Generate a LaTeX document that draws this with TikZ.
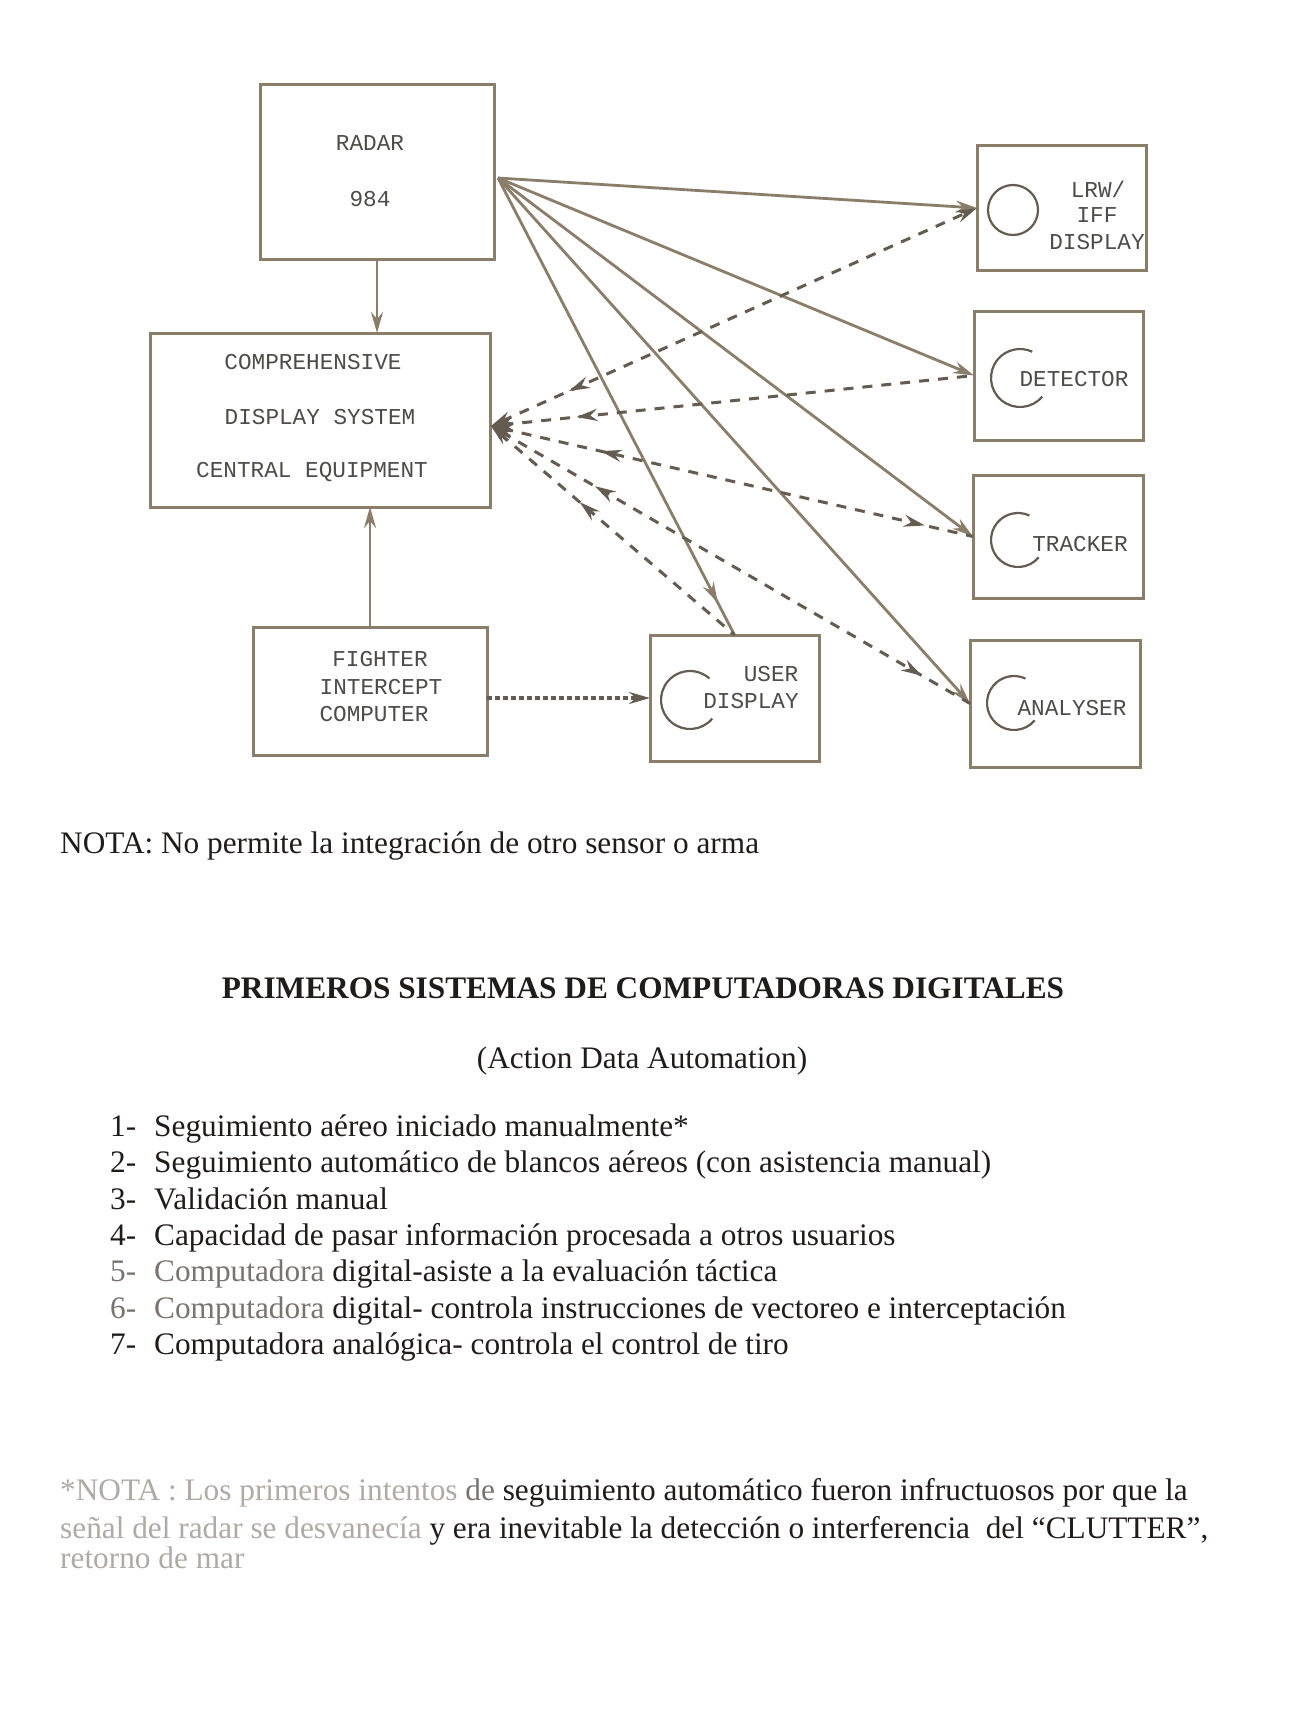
\documentclass[tikz,border=0pt]{standalone}
\usepackage{fontspec}
\setmainfont{Liberation Serif}
\newfontfamily\monofam{Liberation Mono}
\usetikzlibrary{arrows.meta,decorations.markings}
\definecolor{linec}{RGB}{138,126,106}
\definecolor{dashc}{RGB}{100,92,80}
\definecolor{boxtext}{RGB}{78,76,72}
\definecolor{bodytext}{RGB}{32,28,26}
\definecolor{fadec}{RGB}{175,170,165}
\definecolor{halfc}{RGB}{120,115,110}
\newcommand\dgfont{\monofam\fontsize{22.7}{27}\selectfont}
\newcommand\bodyfnt{\fontsize{31.3}{37}\selectfont}
\begin{document}
\begin{tikzpicture}[x=1pt,y=-1pt,
  >={Stealth[length=21pt,width=12pt,inset=7pt]},
  box/.style={draw=linec, line width=3pt, inner sep=0pt, outer sep=0pt},
  lbl/.style={font=\dgfont, text=boxtext, inner sep=0pt, anchor=center},
  ring/.style={draw=dashc, line width=2.2pt},
  solidarr/.style={draw=linec, line width=2.8pt},
  dasharr/.style={draw=dashc, line width=3pt, dash pattern=on 10pt off 9pt},
  dotarr/.style={draw=dashc, line width=3.2pt, dash pattern=on 5pt off 3pt},
  backmark/.style={postaction={solid, decorate, decoration={markings, mark=at position #1 with {\arrow{<}}}}},
  fwdmark/.style={postaction={solid, decorate, decoration={markings, mark=at position #1 with {\arrow{>}}}}},
  body/.style={font=\bodyfnt, text=bodytext, inner sep=0pt, anchor=base west}
]
\useasboundingbox[fill=white] (0,0) rectangle (1298,1723);

% ---------- boxes ----------
\node[box, minimum width=234pt, minimum height=174pt] (radar) at (377,172) {};
\node[box, minimum width=340pt, minimum height=174pt] (cds) at (320,420) {};
\node[box, minimum width=234pt, minimum height=128pt] (fic) at (370,691) {};
\node[box, minimum width=169pt, minimum height=126pt] (ud) at (734.5,698) {};
\node[box, minimum width=169pt, minimum height=124pt] (lrw) at (1061.5,208) {};
\node[box, minimum width=169pt, minimum height=129pt] (det) at (1058.5,375.5) {};
\node[box, minimum width=170pt, minimum height=123pt] (trk) at (1058,536.5) {};
\node[box, minimum width=170pt, minimum height=127pt] (ana) at (1055,703.5) {};

% ---------- box labels ----------
\node[lbl] (radarA) at (370,143) {RADAR};
\node[lbl] (radarB) at (370,199) {984};
\node[lbl] (cdsA) at (313,362) {COMPREHENSIVE};
\node[lbl] (cdsB) at (320,417) {DISPLAY SYSTEM};
\node[lbl] (cdsC) at (312,472) {CENTRAL EQUIPMENT};
\node[lbl] (ficA) at (380,659) {FIGHTER};
\node[lbl] (ficB) at (381,687) {INTERCEPT};
\node[lbl] (ficC) at (374,714) {COMPUTER};
\node[lbl] (udA) at (771,674) {USER};
\node[lbl] (udB) at (751,701) {DISPLAY};
\node[lbl] (lrwA) at (1098,189) {LRW/};
\node[lbl] (lrwB) at (1097,215) {IFF};
\node[lbl] (lrwC) at (1097,242) {DISPLAY};
\node[lbl] (detA) at (1074,379) {DETECTOR};
\node[lbl] (trkA) at (1080,544) {TRACKER};
\node[lbl] (anaA) at (1072,708) {ANALYSER};

% ---------- scope symbols ----------
\draw[ring] (1013,210) circle[radius=25];
\draw[ring] (1020,378) ++(40:29) arc[start angle=40, end angle=295, radius=29];
\draw[ring] (1018,540) ++(40:27) arc[start angle=40, end angle=295, radius=27];
\draw[ring] (1014,703) ++(40:27) arc[start angle=40, end angle=295, radius=27];
\draw[ring] (690,700) ++(40:29) arc[start angle=40, end angle=312, radius=29];

% ---------- connectors ----------
\coordinate (rs) at (498,178);
\coordinate (cc) at (491,426);

\draw[solidarr,->] (radar.south) -- (radar.south |- cds.north);
\draw[solidarr,->] (fic.north) -- (fic.north |- cds.south);

\draw[solidarr,->] (rs) -- (lrw.west);
\draw[solidarr,->] (rs) -- (det.west);
\draw[solidarr,->] (rs) -- (trk.west);
\draw[solidarr,->] (rs) -- (ana.west);
\draw[solidarr, fwdmark=0.93] (rs) -- (ud.north);

\draw[dasharr,<->, backmark=0.2] (cc) -- (lrw.west);
\draw[dasharr,<-, backmark=0.22] (cc) -- (det.west);
\draw[dasharr,<-, backmark=0.27, fwdmark=0.9] (cc) -- (trk.west);
\draw[dasharr,<-, backmark=0.255, fwdmark=0.9] (cc) -- (ana.west);
\draw[dasharr,<-, backmark=0.43] (cc) -- (ud.north);

\draw[dotarr,->] (fic.east |- ud.west) -- (ud.west);

% ---------- text ----------
\node[body] (nota) at (60,853) {NOTA: No permite la integración de otro sensor o arma};
\node[body, anchor=base, font=\bodyfnt\bfseries] (title) at (643,998) {PRIMEROS SISTEMAS DE COMPUTADORAS DIGITALES};
\node[body, anchor=base] (subt) at (642,1068) {(Action Data Automation)};

\node[body] (n1) at (110,1136) {1-};
\node[body] (t1) at (154,1136) {Seguimiento aéreo iniciado manualmente*};
\node[body] (n2) at (110,1172) {2-};
\node[body] (t2) at (154,1172) {Seguimiento automático de blancos aéreos (con asistencia manual)};
\node[body] (n3) at (110,1209) {3-};
\node[body] (t3) at (154,1209) {Validación manual};
\node[body] (n4) at (110,1245) {4-};
\node[body] (t4) at (154,1245) {Capacidad de pasar información procesada a otros usuarios};
\node[body, text=halfc] (n5) at (110,1281) {5-};
\node[body] (t5) at (154,1281) {{\color{halfc}Computadora} digital-asiste a la evaluación táctica};
\node[body, text=halfc] (n6) at (110,1318) {6-};
\node[body] (t6) at (154,1318) {{\color{halfc}Computadora} digital- controla instrucciones de vectoreo e interceptación};
\node[body] (n7) at (110,1354) {7-};
\node[body] (t7) at (154,1354) {Computadora analógica- controla el control de tiro};

\node[body] (f1) at (60,1500) {{\color{fadec}*NOTA : Los primeros intentos} {\color{halfc}de} seguimiento automático fueron infructuosos por que la};
\node[body] (f2) at (60,1538) {{\color{fadec}señal del radar se desvanecía} y era inevitable la detección o interferencia\ \ del “CLUTTER”,};
\node[body, text=fadec] (f3) at (60,1568) {retorno de mar};
\end{tikzpicture}
\end{document}
